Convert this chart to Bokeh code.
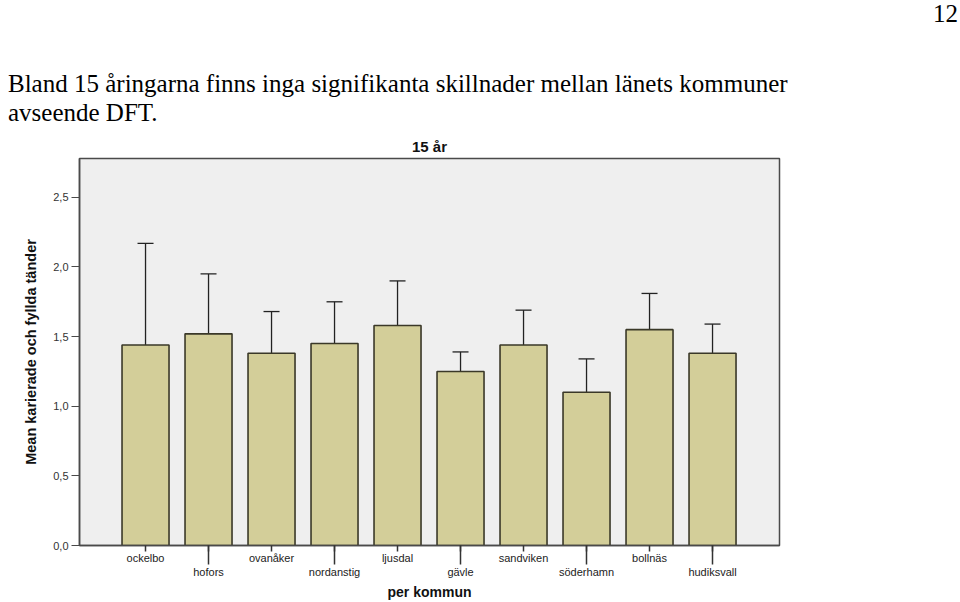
from bokeh.plotting import figure
from bokeh.layouts import column
from bokeh.models import ColumnDataSource, Whisker, FixedTicker, Range1d, Div
from bokeh.embed import file_html
from bokeh.resources import INLINE

kommuner = ["ockelbo", "hofors", "ovanåker", "nordanstig", "ljusdal",
            "gävle", "sandviken", "söderhamn", "bollnäs", "hudiksvall"]
mean_dft = [1.44, 1.52, 1.38, 1.45, 1.58, 1.25, 1.44, 1.10, 1.55, 1.38]
ci_upper = [2.17, 1.95, 1.68, 1.75, 1.90, 1.39, 1.69, 1.34, 1.81, 1.59]
ci_lower = [0.71, 1.10, 1.07, 1.14, 1.26, 1.12, 1.19, 0.87, 1.30, 1.17]
y_ticks = [0.0, 0.5, 1.0, 1.5, 2.0, 2.5]
y_tick_labels = ["0,0", "0,5", "1,0", "1,5", "2,0", "2,5"]
chart_title = "15 år"
page_lines = ["Bland 15 åringarna finns inga signifikanta skillnader mellan länets kommuner",
              "avseende DFT."]
page_number = "12"

TOP_H = 126

# ---- document header (page number and running text) ----
font_css = ("font-family:'Liberation Serif';font-size:25px;line-height:25px;color:black;"
            "white-space:nowrap;position:absolute;")
head_html = (
    f"<div style=\"position:relative;width:960px;height:{TOP_H}px;overflow:visible;\">"
    f"<div style=\"{font_css}right:2px;top:1px;\">{page_number}</div>"
    f"<div style=\"{font_css}left:8px;top:71px;\">{page_lines[0]}</div>"
    f"<div style=\"{font_css}left:8px;top:100px;\">{page_lines[1]}</div>"
    "</div>"
)
head = Div(text=head_html, width=960, height=TOP_H, margin=0)

# ---- bar chart ----
xs = list(range(1, len(kommuner) + 1))
src = ColumnDataSource(dict(x=xs, top=mean_dft, upper=ci_upper, lower=ci_lower))

p = figure(width=960, height=602 - TOP_H, output_backend="svg", toolbar_location=None,
           x_range=Range1d(-0.048, 11.063), y_range=Range1d(0, 2.779),
           min_border_left=79, min_border_right=181, min_border_top=158 - TOP_H,
           min_border_bottom=56, title=chart_title, margin=0)

p.title.align = "center"
p.title.text_font = "Liberation Sans"
p.title.text_font_style = "bold"
p.title.text_font_size = "15px"
p.title.text_color = "#111111"
p.title.standoff = 8

p.background_fill_color = "#EFEFEF"
p.border_fill_color = "white"
p.outline_line_color = "#4a4a4a"
p.outline_line_width = 1.5
p.xgrid.visible = False
p.ygrid.visible = False

p.vbar(x="x", top="top", bottom=0, width=0.746, source=src,
       fill_color="#D3CE99", line_color="#3a3828", line_width=1.6)

w = Whisker(base="x", upper="upper", lower="lower", source=src,
            line_color="#222222", line_width=1.3)
for hd in (w.upper_head, w.lower_head):
    hd.size = 16
    hd.line_color = "#222222"
    hd.line_width = 1.3
p.add_layout(w)

# y axis
p.yaxis.ticker = FixedTicker(ticks=y_ticks)
p.yaxis.major_label_overrides = {t: l for t, l in zip(y_ticks, y_tick_labels)}
p.yaxis.major_tick_out = 8
p.yaxis.major_tick_in = 0
p.yaxis.minor_tick_line_color = None
p.yaxis.axis_line_color = "#4a4a4a"
p.yaxis.axis_line_width = 1.5
p.yaxis.major_tick_line_color = "#4a4a4a"
p.yaxis.major_label_text_font = "Liberation Sans"
p.yaxis.major_label_text_font_size = "11px"
p.yaxis.major_label_text_color = "#333333"
p.yaxis.major_label_standoff = 3
p.yaxis.axis_label = "Mean karierade och fyllda tänder"
p.yaxis.axis_label_text_font = "Liberation Sans"
p.yaxis.axis_label_text_font_style = "bold"
p.yaxis.axis_label_text_font_size = "14.5px"
p.yaxis.axis_label_text_color = "#111111"
p.yaxis.axis_label_standoff = 11

# x axis: staggered labels; the second-row ones get long ticks (drawn as minor ticks)
p.xaxis.ticker = FixedTicker(ticks=xs, minor_ticks=xs[1::2])
p.xaxis.major_label_overrides = {
    x: (k if i % 2 == 0 else "\n" + k) for i, (x, k) in enumerate(zip(xs, kommuner))
}
p.xaxis.major_tick_out = 6
p.xaxis.major_tick_in = 0
p.xaxis.minor_tick_out = 19
p.xaxis.minor_tick_in = 0
p.xaxis.minor_tick_line_color = "#333333"
p.xaxis.minor_tick_line_width = 1.5
p.xaxis.axis_line_color = "#4a4a4a"
p.xaxis.axis_line_width = 1.5
p.xaxis.major_tick_line_color = "#333333"
p.xaxis.major_tick_line_width = 1.5
p.xaxis.major_label_text_font = "Liberation Sans"
p.xaxis.major_label_text_font_size = "11px"
p.xaxis.major_label_text_color = "#222222"
p.xaxis.major_label_standoff = -13
p.xaxis.axis_label = "per kommun"
p.xaxis.axis_label_text_font = "Liberation Sans"
p.xaxis.axis_label_text_font_style = "bold"
p.xaxis.axis_label_text_font_size = "14px"
p.xaxis.axis_label_text_color = "#111111"
p.xaxis.axis_label_standoff = 3

layout = column(head, p, spacing=0)
open("out.html", "w").write(file_html(layout, INLINE))
